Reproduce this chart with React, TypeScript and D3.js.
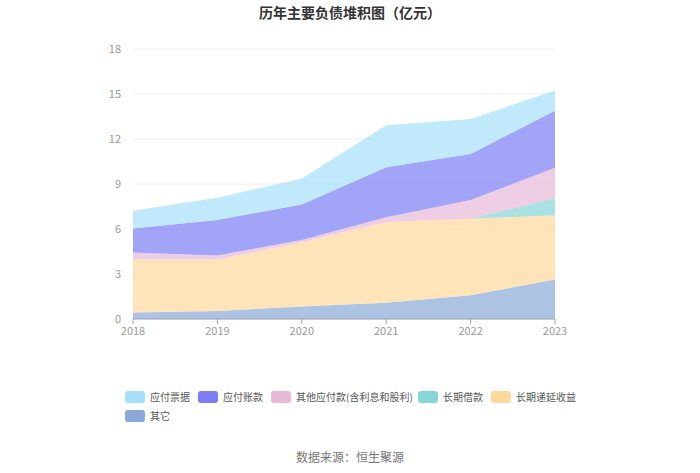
import { useEffect, useRef } from 'react'
import * as d3 from 'd3'

const years = ['2018', '2019', '2020', '2021', '2022', '2023']
const seriesNames = ['应付票据', '应付账款', '其他应付款(含利息和股利)', '长期借款', '长期递延收益', '其它']
const seriesColors = ['#a5dff9', '#7b7ef5', '#e8b8d8', '#86d6d7', '#fdd89a', '#8aa9d8']

// values in 亿元
const bills = [1.18, 1.49, 1.72, 2.8, 2.33, 1.35]
const accounts = [1.6, 2.36, 2.37, 3.33, 3.07, 3.8]
const otherPayables = [0.48, 0.28, 0.16, 0.31, 1.24, 2.02]
const longLoans = [0, 0, 0, 0, 0, 1.16]
const deferredIncome = [3.52, 3.43, 4.27, 5.38, 5.11, 4.27]
const others = [0.44, 0.53, 0.84, 1.09, 1.58, 2.64]

const yTicks = [0, 3, 6, 9, 12, 15, 18]

const W = 700
const H = 473
const FONT = '"Noto Sans CJK SC", "Noto Sans", sans-serif'

export default function App() {
  const ref = useRef<SVGSVGElement>(null)

  useEffect(() => {
    if (!ref.current) return
    const svg = d3.select(ref.current)
    svg.selectAll('*').remove()

    const left = 133
    const right = 555
    const top = 49
    const bottom = 319

    const x = d3.scalePoint<string>().domain(years).range([left, right])
    const y = d3.scaleLinear().domain([0, 18]).range([bottom, top])

    // stack from bottom (其它) to top (应付票据)
    const valuesByName: Record<string, number[]> = {
      '应付票据': bills,
      '应付账款': accounts,
      '其他应付款(含利息和股利)': otherPayables,
      '长期借款': longLoans,
      '长期递延收益': deferredIncome,
      '其它': others,
    }
    const stackOrder = [...seriesNames].reverse()
    const rows = years.map((yr, i) => {
      const r: any = { year: yr }
      stackOrder.forEach(n => (r[n] = valuesByName[n][i]))
      return r
    })
    const stacked = d3.stack<any>().keys(stackOrder)(rows)

    // title
    svg.append('text')
      .attr('x', W / 2)
      .attr('y', 18)
      .attr('text-anchor', 'middle')
      .attr('font-family', FONT)
      .attr('font-size', 14)
      .attr('font-weight', 'bold')
      .attr('fill', '#333')
      .text('历年主要负债堆积图（亿元）')

    // grid
    svg.selectAll('.grid')
      .data(yTicks.filter(t => t > 0))
      .enter()
      .append('line')
      .attr('x1', left)
      .attr('x2', right)
      .attr('y1', d => y(d))
      .attr('y2', d => y(d))
      .attr('stroke', '#eceef4')
      .attr('stroke-width', 1)

    // y labels
    svg.selectAll('.ylab')
      .data(yTicks)
      .enter()
      .append('text')
      .attr('x', left - 12)
      .attr('y', d => y(d) + 4)
      .attr('text-anchor', 'end')
      .attr('font-family', FONT)
      .attr('font-size', 11)
      .attr('fill', '#999')
      .text(d => d)

    // areas
    const area = d3.area<any>()
      .x(d => x(d.data.year) as number)
      .y0(d => y(d[0]))
      .y1(d => y(d[1]))

    svg.selectAll('.layer')
      .data(stacked)
      .enter()
      .append('path')
      .attr('d', d => area(d as any))
      .attr('fill', d => seriesColors[seriesNames.indexOf(d.key)])
      .attr('fill-opacity', 0.7)

    // x axis
    svg.append('line')
      .attr('x1', left)
      .attr('x2', right)
      .attr('y1', bottom)
      .attr('y2', bottom)
      .attr('stroke', '#9a9fb0')
      .attr('stroke-width', 1)
    svg.selectAll('.xtick')
      .data(years)
      .enter()
      .append('line')
      .attr('x1', d => x(d) as number)
      .attr('x2', d => x(d) as number)
      .attr('y1', bottom)
      .attr('y2', bottom + 5)
      .attr('stroke', '#9a9fb0')
    svg.selectAll('.xlab')
      .data(years)
      .enter()
      .append('text')
      .attr('x', d => x(d) as number)
      .attr('y', bottom + 16)
      .attr('text-anchor', 'middle')
      .attr('font-family', FONT)
      .attr('font-size', 11)
      .attr('fill', '#999')
      .text(d => d)

    // legend
    const legendPos = [
      [125, 397], [198, 397], [271, 397], [418, 397], [491, 397],
      [125, 416],
    ]
    seriesNames.forEach((name, i) => {
      const [lx, ly] = legendPos[i]
      const g = svg.append('g').attr('transform', `translate(${lx},${ly})`)
      g.append('rect')
        .attr('x', 0)
        .attr('y', -6)
        .attr('width', 20)
        .attr('height', 12)
        .attr('rx', 3)
        .attr('fill', seriesColors[i])
      g.append('text')
        .attr('x', 25)
        .attr('y', 4)
        .attr('font-family', FONT)
        .attr('font-size', 10)
        .attr('fill', '#555')
        .text(name)
    })

    // source
    svg.append('text')
      .attr('x', W / 2)
      .attr('y', 462)
      .attr('text-anchor', 'middle')
      .attr('font-family', FONT)
      .attr('font-size', 12)
      .attr('fill', '#777')
      .text('数据来源：恒生聚源')
  }, [])

  return (
    <svg
      ref={ref}
      width={W}
      height={H}
      style={{ position: 'absolute', left: 0, top: 0, background: '#fff' }}
    />
  )
}
